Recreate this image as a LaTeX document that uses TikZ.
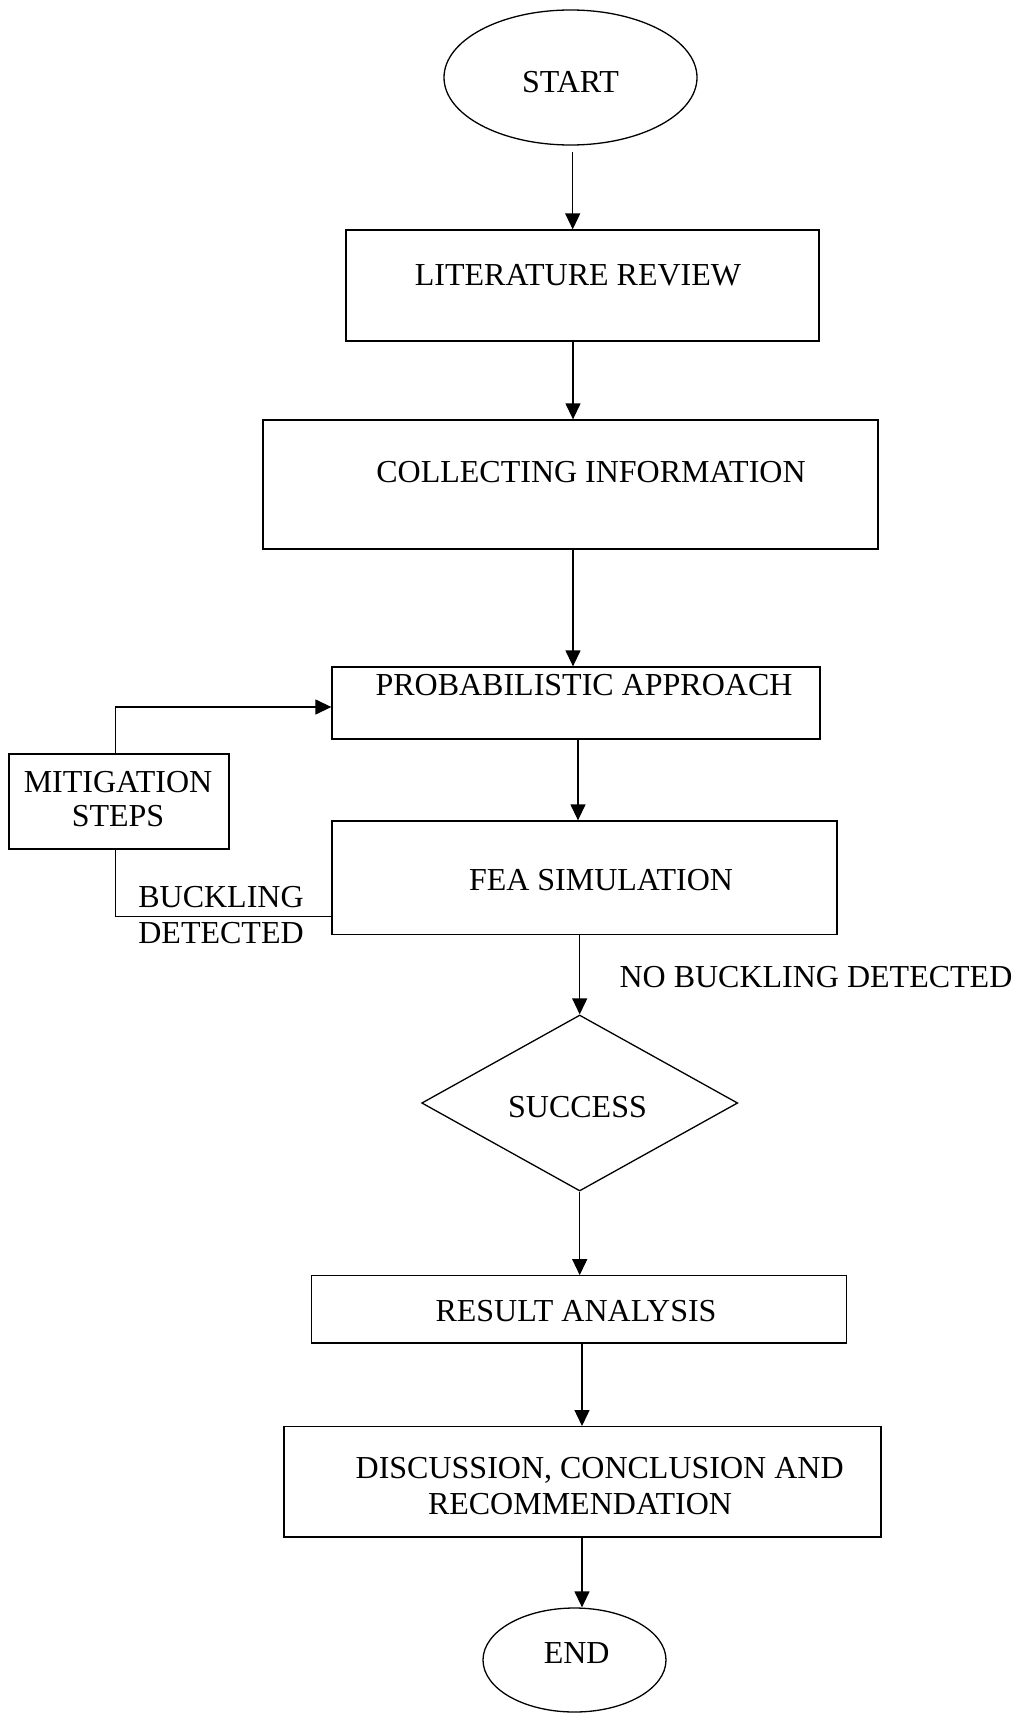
\documentclass[tikz,border=0pt]{standalone}
\usepackage{fontspec}
\setmainfont{Liberation Serif}
\usetikzlibrary{arrows.meta,shapes.geometric}
\newcommand\txtat[3]{\raisebox{\dimexpr#2-5.25pt\relax}[0pt][0pt]{\makebox[0pt]{\hspace*{#1}#3}}}
\begin{document}
\begin{tikzpicture}[x=0.5pt,y=-0.5pt,
  font=\fontsize{16pt}{18pt}\selectfont,
  box/.style={draw, line width=0.65pt, rectangle, inner sep=0pt},
  oval/.style={draw, line width=0.65pt, ellipse, inner sep=0pt},
  dia/.style={draw, line width=0.65pt, diamond, inner sep=0pt},
  arr/.style={line width=0.65pt, -{Triangle[length=8pt,width=7.5pt]}},
  ln/.style={line width=0.65pt}]
\useasboundingbox (0,0) rectangle (1019,1713);

\node[oval, minimum width=126.5pt, minimum height=67.5pt] (start) at (570.5,77.5) {\txtat{0pt}{-2.25pt}{START}};
\node[box, minimum width=236.5pt, minimum height=55.5pt] (lit) at (582.5,285.5) {\txtat{-4.5pt}{5.25pt}{LITERATURE REVIEW}};
\node[box, minimum width=307.5pt, minimum height=64.5pt] (col) at (570.5,484.5) {\txtat{20.5pt}{6.25pt}{COLLECTING INFORMATION}};
\node[box, minimum width=244pt, minimum height=36pt] (prob) at (576,703) {\txtat{8pt}{9pt}{PROBABILISTIC APPROACH}};
\node[box, minimum width=110pt, minimum height=47.5pt] (mit) at (119,801.5) {\txtat{-1pt}{9.75pt}{MITIGATION}\txtat{-1pt}{-7.25pt}{STEPS}};
\node[box, minimum width=252.5pt, minimum height=56.75pt] (fea) at (584.5,877.75) {\txtat{16.5pt}{-1.1pt}{FEA SIMULATION}};
\node[dia, minimum width=158pt, minimum height=88pt] (suc) at (579.7,1103) {\txtat{-2.2pt}{-2pt}{SUCCESS}};
\node[box, minimum width=267.5pt, minimum height=33.65pt] (res) at (579.2,1309.4) {\txtat{-3.2pt}{-0.8pt}{RESULT ANALYSIS}};
\node[box, minimum width=298.5pt, minimum height=55.15pt] (disc) at (582.5,1481.8) {\txtat{17.2pt}{7.05pt}{DISCUSSION, CONCLUSION AND}\txtat{-2.5pt}{-11.1pt}{RECOMMENDATION}};
\node[oval, minimum width=91.5pt, minimum height=52pt] (end) at (574.5,1660) {\txtat{2.2pt}{3.5pt}{END}};

\node (buck) at (221,915) {\txtat{0pt}{9pt}{BUCKLING}\txtat{0pt}{-9pt}{DETECTED}};
\node (nobuck) at (816,977) {\txtat{0pt}{0pt}{NO BUCKLING DETECTED}};

\coordinate (ax1) at (572.7,0);
\coordinate (ax2) at (573,0);
\coordinate (ax3) at (573,0);
\coordinate (ax4) at (578,0);
\coordinate (ax5) at (582,0);

\draw[arr] (start.south -| ax1) ++(0,6) -- (lit.north -| ax1);
\draw[arr] (lit.south -| ax2) -- (col.north -| ax2);
\draw[arr] (col.south -| ax3) -- (prob.north -| ax3);
\draw[arr] (prob.south -| ax4) -- (fea.north -| ax4);
\draw[arr] (fea.south -| suc.north) -- (suc.north);
\draw[arr] (suc.south) -- (suc.south |- res.north);
\draw[arr] (res.south -| ax5) -- (disc.north -| ax5);
\draw[arr] (disc.south -| ax5) -- (end.north -| ax5);

\draw[arr] ([xshift=-1.75pt]mit.north) |- ([yshift=-2pt]prob.west);
\draw[ln] ([xshift=-1.75pt]mit.south) |- ([yshift=9.25pt]fea.south west);
\end{tikzpicture}
\end{document}
